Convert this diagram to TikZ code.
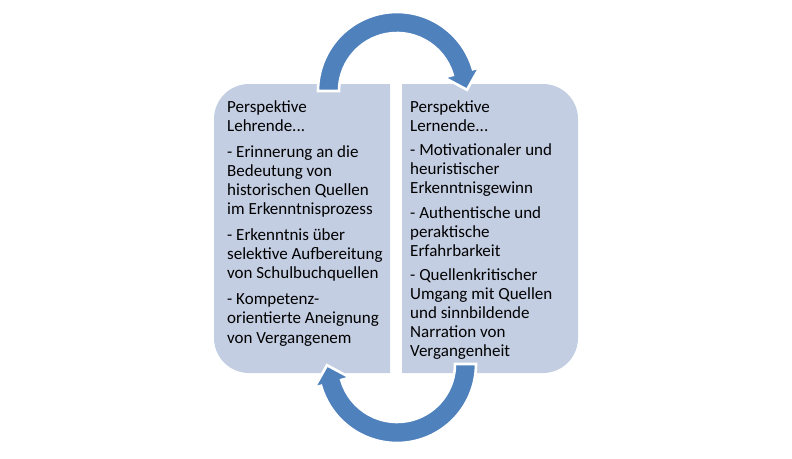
\documentclass[tikz,border=0pt]{standalone}
\usepackage{fontspec}
\setmainfont{Carlito}
\usetikzlibrary{calc}
\definecolor{boxfill}{RGB}{196,206,226}
\definecolor{arrowblue}{RGB}{79,129,189}
\definecolor{txt}{RGB}{0,0,0}
\begin{document}
\begin{tikzpicture}[x=1pt,y=-1pt,
  panel/.style={fill=boxfill,draw=none},
  cyclearrow/.style={fill=arrowblue,draw=white,line width=2.6pt,line join=miter},
  paneltext/.style={anchor=north west,inner sep=0pt,align=left,text=txt}]
\useasboundingbox (0,0) rectangle (792,458);
% panels
\path[panel] (390,84) -- (249,84) arc[start angle=270,end angle=180,radius=35]
  -- (214,338) arc[start angle=180,end angle=90,radius=35] -- (390,373) -- cycle;
\path[panel] (402,84) -- (543,84) arc[start angle=270,end angle=360,radius=35]
  -- (578,338) arc[start angle=0,end angle=90,radius=35] -- (402,373) -- cycle;
\node[paneltext,font=\fontsize{17}{19.2}\selectfont] (lehr) at (227,100.3) {Perspektive\\Lehrende...\\[6.5pt]- Erinnerung an die\\Bedeutung von\\historischen Quellen\\im Erkenntnisprozess\\[6.5pt]- Erkenntnis über\\selektive Aufbereitung\\von Schulbuchquellen\\[6.5pt]- Kompetenz-\\orientierte Aneignung\\von Vergangenem};
\node[paneltext,font=\fontsize{17}{19}\selectfont] (lern) at (410,100.3) {Perspektive\\Lernende...\\[5.5pt]- Motivationaler und\\heuristischer\\Erkenntnisgewinn\\[5.5pt]- Authentische und\\peraktische\\Erfahrbarkeit\\[5.5pt]- Quellenkritischer\\Umgang mit Quellen\\und sinnbildende\\Narration von\\Vergangenheit};
% top arrow
\coordinate (ct) at (397,91);
\path[cyclearrow] ($(ct)+(180:79)$) arc[start angle=180,end angle=344,radius=79]
  -- ($(ct)+(344:86)$) -- ($(ct)+(359:70)$) -- ($(ct)+(344:49)$)
  -- ($(ct)+(344:58)$) arc[start angle=344,end angle=180,radius=58] -- cycle;
% bottom arrow
\coordinate (cb) at (397,364);
\path[cyclearrow] ($(cb)+(0:79)$) arc[start angle=0,end angle=164,radius=79]
  -- ($(cb)+(164:86)$) -- ($(cb)+(179:70)$) -- ($(cb)+(164:49)$)
  -- ($(cb)+(164:58)$) arc[start angle=164,end angle=0,radius=58] -- cycle;
\end{tikzpicture}
\end{document}
